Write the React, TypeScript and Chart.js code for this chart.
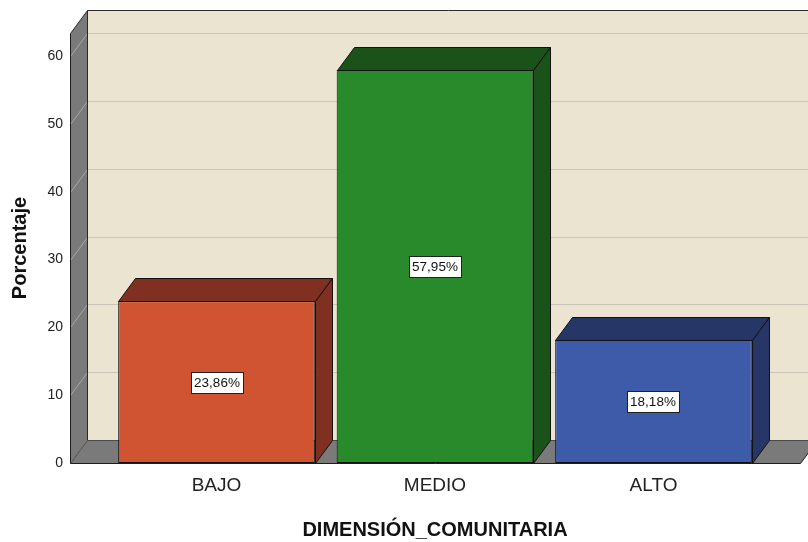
import { useEffect, useRef } from "react";
import { Chart, registerables } from "chart.js";

Chart.register(...registerables);

const categories = ["BAJO", "MEDIO", "ALTO"];
const percentages = [23.86, 57.95, 18.18];
const yTickValues = [0, 10, 20, 30, 40, 50, 60];
const frontColors = ["#D05332", "#298A2C", "#3E5BA9"];
const shadeColors = ["#803020", "#1B521A", "#263767"];

const DEPTH_X = 17;
const DEPTH_Y = -23;
const FONT = "'Liberation Sans', Arial, sans-serif";

const formatPct = (v: number) => v.toFixed(2).replace(".", ",") + "%";

const line = (ctx: CanvasRenderingContext2D, x1: number, y1: number, x2: number, y2: number) => {
  ctx.beginPath();
  ctx.moveTo(x1, y1);
  ctx.lineTo(x2, y2);
  ctx.stroke();
};

const poly = (ctx: CanvasRenderingContext2D, pts: number[][], fill: string, stroke?: string) => {
  ctx.beginPath();
  pts.forEach(([x, y], i) => (i ? ctx.lineTo(x, y) : ctx.moveTo(x, y)));
  ctx.closePath();
  ctx.fillStyle = fill;
  ctx.fill();
  if (stroke) {
    ctx.strokeStyle = stroke;
    ctx.stroke();
  }
};

// Walls, floor and depth faces of the boxes, plus value labels.
const box3d = {
  id: "box3d",
  beforeDatasetsDraw(chart: any) {
    const { ctx, chartArea: a, scales } = chart;
    const y = scales.y;
    const L = a.left + 0.5;
    const B = a.bottom + 0.5;
    const T = a.top + 0.5;
    const R = a.right + DEPTH_X + 0.5;
    ctx.save();
    ctx.lineWidth = 1;

    // back wall
    ctx.fillStyle = "#EAE4D1";
    ctx.fillRect(L + DEPTH_X, T + DEPTH_Y, R - L - DEPTH_X, B - T);

    // horizontal grid lines on the back wall
    ctx.strokeStyle = "#C9C5BB";
    for (const v of yTickValues) {
      if (v === 0) continue;
      const py = Math.round(y.getPixelForValue(v)) + 0.5 + DEPTH_Y;
      line(ctx, L + DEPTH_X, py, R, py);
    }

    // left side wall
    poly(ctx, [[L, T], [L + DEPTH_X, T + DEPTH_Y], [L + DEPTH_X, B + DEPTH_Y], [L, B]], "#7A7A7A");
    ctx.strokeStyle = "#A8A8A8";
    for (const v of yTickValues) {
      if (v === 0) continue;
      const py = Math.round(y.getPixelForValue(v)) + 0.5;
      line(ctx, L, py, L + DEPTH_X, py + DEPTH_Y);
    }

    // floor
    poly(ctx, [[L, B], [L + DEPTH_X, B + DEPTH_Y], [R, B + DEPTH_Y], [R - DEPTH_X, B]], "#7A7A7A");

    // edges
    ctx.strokeStyle = "#2A2A2A";
    line(ctx, L + DEPTH_X, T + DEPTH_Y, R, T + DEPTH_Y);
    line(ctx, L + DEPTH_X, T + DEPTH_Y, L + DEPTH_X, B + DEPTH_Y);
    line(ctx, L, T, L + DEPTH_X, T + DEPTH_Y);
    ctx.strokeStyle = "#4A4A4A";
    line(ctx, L + DEPTH_X, B + DEPTH_Y, R, B + DEPTH_Y);
    line(ctx, L, B, L + DEPTH_X, B + DEPTH_Y);
    ctx.strokeStyle = "#1E1E1E";
    line(ctx, R - DEPTH_X, B, R, B + DEPTH_Y);
    line(ctx, L, T, L, B);
    line(ctx, L, B, R - DEPTH_X, B);
    ctx.restore();
  },
  afterDatasetsDraw(chart: any) {
    const { ctx } = chart;
    const meta = chart.getDatasetMeta(0);
    ctx.save();
    ctx.lineWidth = 1;
    meta.data.forEach((bar: any, i: number) => {
      const x1 = Math.round(bar.x - bar.width / 2) + 0.5;
      const x2 = Math.round(bar.x + bar.width / 2) + 0.5;
      const top = Math.round(bar.y) + 0.5;
      const base = Math.round(bar.base) + 0.5;
      const shade = shadeColors[i];
      poly(ctx, [[x1, top], [x1 + DEPTH_X, top + DEPTH_Y], [x2 + DEPTH_X, top + DEPTH_Y], [x2, top]], shade, "#111111");
      poly(ctx, [[x2, top], [x2 + DEPTH_X, top + DEPTH_Y], [x2 + DEPTH_X, base + DEPTH_Y], [x2, base]], shade, "#111111");
    });

    // value labels
    ctx.font = `13.5px ${FONT}`;
    ctx.textAlign = "center";
    ctx.textBaseline = "middle";
    meta.data.forEach((bar: any, i: number) => {
      const text = formatPct(percentages[i]);
      const tw = ctx.measureText(text).width;
      const cx = Math.round(bar.x);
      const cy = Math.round((bar.y + bar.base) / 2);
      const w = Math.round(tw + 6);
      const h = 21;
      const bx = Math.round(cx - w / 2) + 0.5;
      const by = Math.round(cy - h / 2) + 0.5;
      ctx.fillStyle = "#FFFFFF";
      ctx.fillRect(bx, by, w, h);
      ctx.strokeStyle = "#202020";
      ctx.strokeRect(bx, by, w, h);
      ctx.fillStyle = "#111111";
      ctx.fillText(text, cx, cy + 1);
    });
    ctx.restore();
  },
};

export default function App() {
  const canvasRef = useRef<HTMLCanvasElement | null>(null);

  useEffect(() => {
    document.body.style.margin = "0";
    const canvas = canvasRef.current;
    if (!canvas) return;
    const chart = new Chart(canvas, {
      type: "bar",
      data: {
        datasets: [
          {
            data: percentages.map((v, i) => ({ x: i, y: v })),
            backgroundColor: frontColors,
            borderColor: "#111111",
            borderWidth: 1,
            borderSkipped: false,
            barPercentage: 0.9,
            categoryPercentage: 1,
          },
        ],
      },
      options: {
        responsive: false,
        animation: false,
        events: [],
        layout: { padding: { top: 33, right: 8, left: 0, bottom: 0 } },
        plugins: { legend: { display: false }, tooltip: { enabled: false } },
        scales: {
          x: {
            type: "linear",
            offset: false,
            min: -0.6705,
            max: 2.6705,
            grid: { display: false, drawTicks: false, offset: false },
            border: { display: false },
            afterBuildTicks: (s: any) => {
              s.ticks = categories.map((_, i) => ({ value: i }));
            },
            ticks: {
              callback: (v: any) => categories[v] ?? "",
              font: { family: FONT, size: 19 },
              color: "#222222",
              padding: 11,
              maxRotation: 0,
              autoSkip: false,
            },
            title: {
              display: true,
              text: "DIMENSIÓN_COMUNITARIA",
              font: { family: FONT, size: 20, weight: "bold" },
              color: "#111111",
              padding: 0,
            },
            afterFit: (s: any) => {
              s.height = 79;
            },
          },
          y: {
            type: "linear",
            min: 0,
            max: 63.4,
            grid: { display: false, drawTicks: false },
            border: { display: false },
            afterBuildTicks: (s: any) => {
              s.ticks = yTickValues.map((v) => ({ value: v }));
            },
            ticks: {
              font: { family: FONT, size: 14 },
              color: "#222222",
              padding: 7,
            },
            title: {
              display: true,
              text: "Porcentaje",
              font: { family: FONT, size: 20, weight: "bold" },
              color: "#111111",
              padding: { top: 8, bottom: 0 },
            },
            afterFit: (s: any) => {
              s.width = 70;
            },
          },
        },
      },
      plugins: [box3d],
    } as any);
    return () => chart.destroy();
  }, []);

  return (
    <div style={{ position: "absolute", left: 0, top: 0, width: 808, height: 542, background: "#FFFFFF" }}>
      <canvas ref={canvasRef} width={808} height={542} />
    </div>
  );
}
